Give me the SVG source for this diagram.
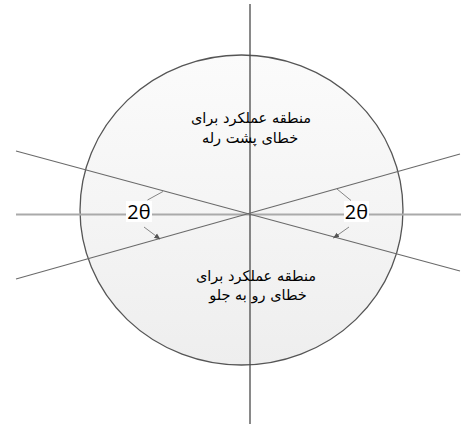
<svg xmlns="http://www.w3.org/2000/svg" width="461" height="425" viewBox="0 0 461 425">
<style>
.fa{font-family:"DejaVu Sans","Noto Sans",sans-serif;font-size:14.5px;fill:#000;text-anchor:middle;direction:rtl}
.th{font-family:"Open Sans","Liberation Sans",sans-serif;font-size:20px;fill:#000;text-anchor:middle}
.diag{stroke:#6a6a6a;stroke-width:1.1;fill:none}
.lead{stroke:#777;stroke-width:0.9;fill:none}
</style>
<defs>
<linearGradient id="g" x1="0" y1="0" x2="0" y2="1">
<stop offset="0" stop-color="#fbfbfb"/>
<stop offset="1" stop-color="#eeeeee"/>
</linearGradient>
<marker id="ah" viewBox="0 0 10 10" refX="9" refY="5" markerWidth="7" markerHeight="7" orient="auto-start-reverse">
<path d="M0,1 L10,5 L0,9 z" fill="#555"/>
</marker>
</defs>
<rect width="461" height="425" fill="#fff"/>
<g id="zone">
<ellipse cx="241.5" cy="210" rx="161.5" ry="155" fill="url(#g)" stroke="#555" stroke-width="1.3"/>
</g>
<g id="connectors">
<line x1="16" y1="214.5" x2="461" y2="214.5" stroke="#aaa" stroke-width="2"/>
<line x1="250" y1="4" x2="250" y2="424" stroke="#4a4a4a" stroke-width="1.3"/>
<line class="diag" x1="16" y1="151" x2="460" y2="271"/>
<line class="diag" x1="16" y1="279" x2="460" y2="154"/>
<line class="lead" x1="147.5" y1="200" x2="163" y2="191.5"/>
<line class="lead" x1="144" y1="227" x2="160" y2="239" marker-end="url(#ah)"/>
<line class="lead" x1="337" y1="189" x2="351" y2="200.5"/>
<line class="lead" x1="349" y1="227" x2="333.5" y2="238" marker-end="url(#ah)"/>
</g>
<g id="label-left">
<rect x="126" y="201" width="26" height="21" fill="#fff"/>
<text class="th" x="139" y="219">2θ</text>
</g>
<g id="label-right">
<rect x="344" y="201" width="25" height="21" fill="#fff"/>
<text class="th" x="356.5" y="219">2θ</text>
</g>
<g id="backward">
<text class="fa" x="251" y="123">منطقه عملکرد برای</text>
<text class="fa" x="250" y="143">خطای پشت رله</text>
</g>
<g id="forward">
<text class="fa" x="256" y="281">منطقه عملکرد برای</text>
<text class="fa" x="258" y="300">خطای رو به جلو</text>
</g>
</svg>
